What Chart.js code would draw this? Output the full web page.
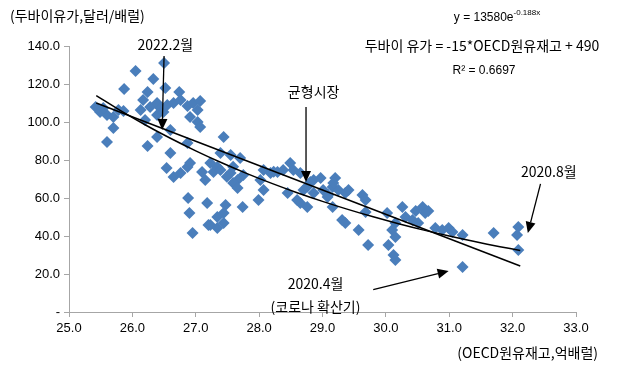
<!DOCTYPE html>
<html>
<head>
<meta charset="utf-8">
<script src="https://cdn.jsdelivr.net/npm/chart.js@4"></script>
<style>
  html, body { margin: 0; padding: 0; background: #fff; }
  #wrap { width: 622px; height: 365px; position: relative; }
</style>
</head>
<body>
<div id="wrap"><canvas id="scatterChart" width="622" height="365"></canvas></div>
<script>
// ===========================
// Data (OECD crude stocks, 100M bbl  vs  Dubai price, $/bbl)
// ===========================

const stockX = [
    26.50, 26.05, 26.33, 25.87, 26.24, 26.52, 26.74, 26.17, 25.42, 25.49,
    25.60, 25.70, 25.86, 26.13, 26.28, 26.39, 26.44, 26.55, 26.65, 26.76,
    26.87, 26.96, 27.07, 27.03, 26.39, 26.49, 26.91, 27.03, 25.70, 25.60,
    26.24, 26.39, 26.60, 26.60, 26.87, 26.20, 25.78, 25.54, 26.54, 26.65,
    26.76, 26.87, 26.91, 27.10, 26.88, 27.18, 26.90, 27.20, 26.95, 27.44,
    27.07, 27.39, 27.55, 27.70, 27.23, 27.34, 27.28, 27.55, 27.66, 27.75,
    27.59, 27.66, 27.15, 28.07, 28.18, 28.02, 28.07, 27.99, 28.29, 28.38,
    28.49, 28.54, 28.65, 28.45, 28.60, 28.65, 28.76, 28.70, 28.86, 29.01,
    29.08, 27.47, 27.44, 27.74, 27.34, 27.23, 27.34, 27.44, 28.81, 28.97,
    29.20, 29.16, 29.25, 29.36, 29.41, 29.09, 29.63, 29.68, 29.16, 29.68,
    29.31, 29.36, 29.57, 29.72, 30.02, 30.15, 30.10, 30.26, 30.31, 30.42,
    30.47, 30.58, 30.62, 30.67, 30.51, 30.15, 30.04, 30.12, 30.15, 30.78,
    30.89, 30.99, 31.05, 31.21, 31.21, 31.70, 32.09, 32.07, 32.09, 27.49,
    27.39, 27.59, 28.76, 28.86, 29.17, 28.23
];

const priceY = [
    131.1, 126.8, 122.6, 117.4, 115.8, 117.9, 115.8, 111.6, 107.9, 105.3,
    103.7, 102.6, 105.8, 106.3, 107.9, 110.0, 107.4, 108.9, 110.0, 111.6,
    108.4, 110.0, 111.1, 106.3, 103.7, 105.3, 102.6, 100.0, 96.8, 89.5,
    87.4, 92.1, 95.8, 83.7, 88.9, 101.1, 106.3, 107.4, 75.8, 71.1,
    73.2, 76.3, 78.4, 73.7, 60.0, 57.4, 52.1, 45.8, 41.6, 92.1,
    97.4, 83.7, 82.6, 81.1, 78.4, 76.3, 73.7, 73.2, 69.5, 72.1,
    67.9, 65.3, 69.5, 74.7, 73.2, 69.5, 64.2, 58.9, 73.7, 74.7,
    78.4, 74.7, 73.2, 62.6, 58.9, 57.4, 55.3, 64.2, 62.6, 64.2,
    60.5, 56.3, 52.1, 55.3, 50.0, 45.8, 44.2, 46.8, 68.4, 70.5,
    70.5, 65.8, 64.2, 62.6, 64.2, 61.6, 61.6, 58.9, 55.3, 52.6,
    48.4, 46.8, 43.2, 35.3, 52.1, 46.8, 43.2, 55.3, 50.0, 48.4,
    53.2, 55.3, 52.1, 53.2, 46.8, 39.5, 35.3, 30.0, 27.4, 44.2,
    43.2, 44.2, 42.1, 40.5, 23.7, 41.6, 44.7, 40.5, 32.6, 71.2,
    74.7, 76.5, 65.9, 69.5, 67.9, 73.8
];

// linear trend line, end points
const linTrendX = [25.43, 32.12];
const linTrendY = [110.0, 24.2];

// exponential trend: y = 13580 e^(-0.188x), evaluated over the data range
const expA = 13580;
const expB = -0.188;
const expTrendX = [25.43, 25.8, 26.2, 26.6, 27.0, 27.4, 27.8, 28.2, 28.6, 29.0,
                   29.4, 29.8, 30.2, 30.6, 31.0, 31.4, 31.8, 32.12];

const xTicks = [25, 26, 27, 28, 29, 30, 31, 32, 33];
const yTicks = [0, 20, 40, 60, 80, 100, 120, 140];

const FONT = "'Liberation Sans', 'Noto Sans CJK KR', sans-serif";
const KFONT = "'Noto Sans CJK KR', 'Liberation Sans', sans-serif";

// ===========================
// Annotation plugin (arrows + labels)
// ===========================

const notes = [
    { text: '2022.2월', x: 26.52, y: 140.5 },
    { text: '균형시장', x: 28.86, y: 115.8 },
    { text: '2020.8월', x: 32.57, y: 73.7 },
    { text: '2020.4월', x: 28.89, y: 15.0 },
    { text: '(코로나 확산기)', x: 28.89, y: 3.0 }
];

const arrows = [
    { from: [26.50, 134.7], to: [26.47, 95.8] },
    { from: [28.74, 107.9], to: [28.74, 68.4] },
    { from: [32.44, 67.4], to: [32.24, 41.6] },
    { from: [29.80, 11.8], to: [30.99, 21.6] }
];

function drawArrow(ctx, x1, y1, x2, y2) {
    const ang = Math.atan2(y2 - y1, x2 - x1);
    const head = 11, half = 5;
    ctx.beginPath();
    ctx.moveTo(x1, y1);
    ctx.lineTo(x2 - Math.cos(ang) * head, y2 - Math.sin(ang) * head);
    ctx.stroke();
    ctx.beginPath();
    ctx.moveTo(x2, y2);
    ctx.lineTo(x2 - Math.cos(ang) * head - Math.sin(ang) * half,
               y2 - Math.sin(ang) * head + Math.cos(ang) * half);
    ctx.lineTo(x2 - Math.cos(ang) * head + Math.sin(ang) * half,
               y2 - Math.sin(ang) * head - Math.cos(ang) * half);
    ctx.closePath();
    ctx.fill();
}

const annotationPlugin = {
    id: 'annotations',
    afterDatasetsDraw(chart) {
        const ctx = chart.ctx;
        const xs = chart.scales.x, ys = chart.scales.y;
        ctx.save();
        ctx.strokeStyle = '#000';
        ctx.fillStyle = '#000';
        ctx.lineWidth = 1.3;
        arrows.forEach(a => {
            drawArrow(ctx,
                xs.getPixelForValue(a.from[0]), ys.getPixelForValue(a.from[1]),
                xs.getPixelForValue(a.to[0]), ys.getPixelForValue(a.to[1]));
        });
        ctx.font = '14px ' + KFONT;
        ctx.textAlign = 'center';
        ctx.textBaseline = 'middle';
        notes.forEach(n => {
            ctx.fillText(n.text, xs.getPixelForValue(n.x), ys.getPixelForValue(n.y));
        });
        ctx.restore();
    },
    afterDraw(chart) {
        const ctx = chart.ctx;
        ctx.save();
        ctx.fillStyle = '#000';
        ctx.textBaseline = 'middle';
        // y axis title
        ctx.font = '14px ' + KFONT;
        ctx.textAlign = 'left';
        ctx.fillText('(두바이유가,달러/배럴)', 10, 16);
        // x axis title
        ctx.textAlign = 'right';
        ctx.fillText('(OECD원유재고,억배럴)', 598, 353);
        // regression text
        ctx.textAlign = 'center';
        ctx.fillText('두바이 유가 = -15*OECD원유재고 + 490', 482, 46);
        ctx.font = '12px ' + FONT;
        ctx.fillText('R² = 0.6697', 484, 71);
        const eq = 'y = 13580e';
        const sup = '-0.188x';
        const w1 = ctx.measureText(eq).width;
        ctx.font = '8px ' + FONT;
        const w2 = ctx.measureText(sup).width;
        const left = 497 - (w1 + w2) / 2;
        ctx.textAlign = 'left';
        ctx.fillText(sup, left + w1, 13);
        ctx.font = '12px ' + FONT;
        ctx.fillText(eq, left, 18);
        ctx.restore();
    }
};

// ===========================
// Chart
// ===========================

const points = stockX.map((x, i) => ({ x: x, y: priceY[i] }));
const linLine = linTrendX.map((x, i) => ({ x: x, y: linTrendY[i] }));
const expLine = expTrendX.map(x => ({ x: x, y: expA * Math.exp(expB * x) }));

new Chart(document.getElementById('scatterChart'), {
    type: 'scatter',
    data: {
        datasets: [
            {
                type: 'line',
                data: linLine,
                borderColor: '#000',
                borderWidth: 1.5,
                pointRadius: 0,
                fill: false,
                order: 0
            },
            {
                type: 'line',
                data: expLine,
                borderColor: '#000',
                borderWidth: 1.5,
                pointRadius: 0,
                tension: 0.4,
                fill: false,
                order: 0
            },
            {
                data: points,
                pointStyle: 'rectRot',
                pointRadius: 6,
                backgroundColor: '#4A7EBB',
                borderColor: '#4A7EBB',
                borderWidth: 0,
                order: 1
            }
        ]
    },
    options: {
        responsive: false,
        animation: false,
        events: [],
        layout: { padding: { top: 46, right: 46, left: 0, bottom: 0 } },
        plugins: {
            legend: { display: false },
            tooltip: { enabled: false }
        },
        scales: {
            x: {
                type: 'linear',
                min: 25,
                max: 33,
                afterFit(scale) { scale.height = 53; },
                afterBuildTicks(scale) { scale.ticks = xTicks.map(v => ({ value: v })); },
                ticks: {
                    color: '#000',
                    padding: 4,
                    font: { family: FONT, size: 13 },
                    callback: v => v.toFixed(1)
                },
                grid: {
                    drawOnChartArea: false,
                    drawTicks: true,
                    tickLength: 5,
                    color: '#A6A6A6'
                },
                border: { color: '#A6A6A6', width: 1 }
            },
            y: {
                min: 0,
                max: 140,
                afterFit(scale) { scale.width = 69; },
                afterBuildTicks(scale) { scale.ticks = yTicks.map(v => ({ value: v })); },
                ticks: {
                    color: '#000',
                    padding: 4,
                    font: { family: FONT, size: 13 },
                    callback: v => (v === 0 ? '-' : v.toFixed(1))
                },
                grid: {
                    drawOnChartArea: false,
                    drawTicks: true,
                    tickLength: 5,
                    color: '#A6A6A6'
                },
                border: { color: '#A6A6A6', width: 1 }
            }
        }
    },
    plugins: [annotationPlugin]
});
</script>
</body>
</html>
